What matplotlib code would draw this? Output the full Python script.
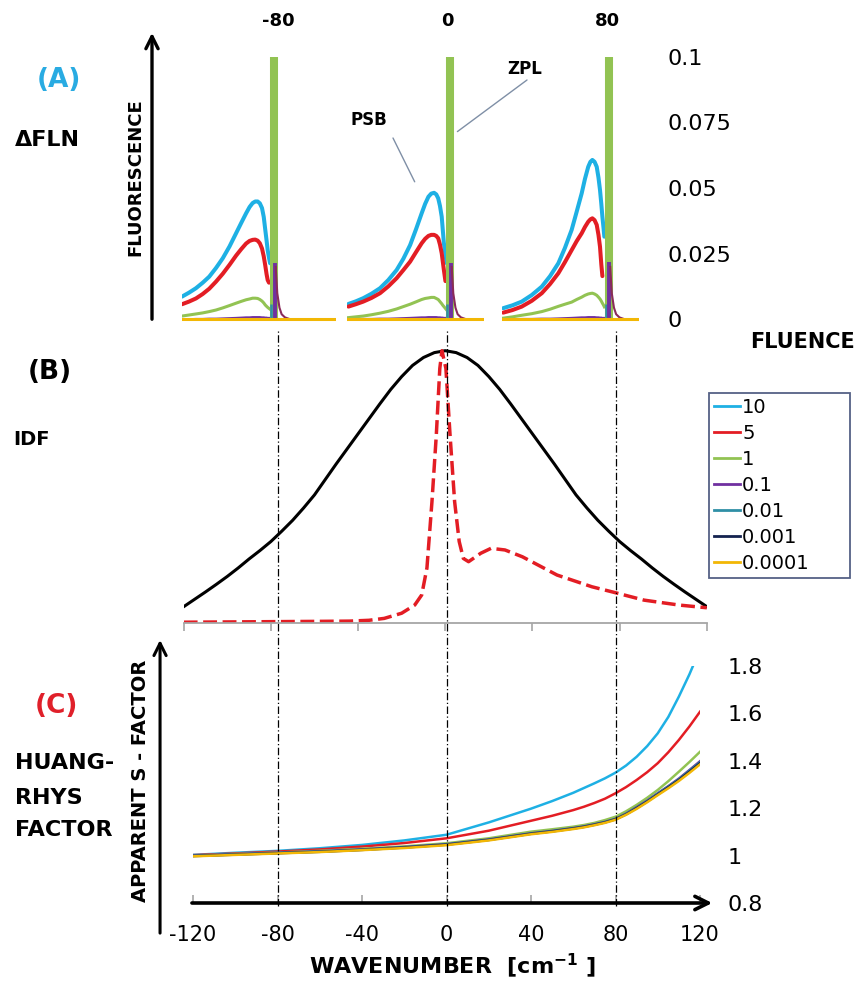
import numpy as np
import matplotlib
matplotlib.use("Agg")
import matplotlib.pyplot as plt
from matplotlib.lines import Line2D
from matplotlib.patches import ConnectionPatch, FancyArrowPatch
from matplotlib import transforms

plt.rcParams.update({'font.family': 'DejaVu Sans'})

W, H = 856, 981          # figure size in pixels (dpi 100)


def px(x, y):
    """pixel position (from top-left) -> figure fraction"""
    return x / W, 1 - y / H


# series colours / legend
colors = ['#1eb0e4', '#e31d24', '#92c353', '#7030a0', '#2f8fa6', '#14224f', '#f2b705']
fluence = ['10', '5', '1', '0.1', '0.01', '0.001', '0.0001']

# ---------------- (A) delta-FLN spectra, x = cm-1 relative to the ZPL ----------------
left_x = [-42.2, -39, -35.8, -32.7, -29.7, -26.6, -23.5, -20.4, -17.4, -15, -12.8, -11.2,
          -9.8, -8.6, -7.5, -6.5, -5.5, -4.7, -4.0, -3.4, -2.9, -2.3, -1.8]
left_blue = [.0087, .0102, .0119, .0140, .0163, .0196, .0233, .0278, .0328, .0368, .0404, .0428,
             .0443, .0449, .0449, .0442, .0424, .0390, .0341, .0300, .0264, .0235, .0214]
left_red = [.0058, .0068, .0080, .0097, .0117, .0144, .0174, .0208, .0243, .0268, .0289, .0299,
            .0303, .0304, .0300, .0290, .0270, .0240, .0205, .0172, .0150, .0140, np.nan]
left_green = [.0013, .0017, .0021, .0025, .0030, .0036, .0044, .0053, .0062, .0069, .0075, .0078,
              .0081, .0081, .0080, .0076, .0070, .0063, .0055, .0050, .0046, .0042, .0039]

mid_x = [-46.6, -43.2, -39.8, -36, -32.1, -28.3, -24.5, -21.4, -18.3, -15.6, -13, -11.4,
         -9.9, -8.6, -7.3, -6.3, -5.4, -4.6, -3.8, -3.3, -2.8, -2.1, -1.5]
mid_blue = [.0059, .0069, .0081, .0098, .0119, .0150, .0188, .0231, .0283, .0343, .0404, .0440,
            .0467, .0479, .0482, .0476, .0461, .0432, .0391, .0340, .0290, .0248, .0214]
mid_red = [.0049, .0058, .0068, .0082, .0100, .0126, .0157, .0188, .0220, .0256, .0290, .0307,
           .0318, .0322, .0322, .0318, .0309, .0285, .0252, .0220, .0188, .0146, np.nan]
mid_green = [.0007, .0010, .0013, .0018, .0024, .0031, .0040, .0049, .0058, .0067, .0076, .0080,
             .0082, .0084, .0084, .0080, .0076, .0068, .0060, .0054, .0049, .0042, .0036]

right_x = [-48.3, -44, -39.8, -35.2, -30.6, -26.8, -23, -20, -16.9, -14.6, -12.3, -10.8,
           -9.3, -8.3, -7.4, -6.4, -5.4, -4.6, -3.9, -3.3, -2.8, -2.3, -1.9]
right_blue = [.0043, .0054, .0068, .0093, .0125, .0165, .0214, .0272, .0341, .0410, .0480, .0535,
              .0581, .0600, .0607, .0600, .0581, .0540, .0493, .0440, .0391, .0350, .0315]
right_red = [.0026, .0036, .0049, .0071, .0100, .0135, .0176, .0218, .0264, .0298, .0328, .0352,
             .0372, .0381, .0385, .0378, .0360, .0322, .0277, .0210, .0165, np.nan, np.nan]
right_green = [.0005, .0010, .0016, .0022, .0030, .0039, .0050, .0058, .0066, .0076, .0085, .0092,
               .0097, .0099, .0100, .0097, .0092, .0085, .0078, .0070, .0062, .0055, .0048]

psb_purple = [.0001, .0001, .0002, .0002, .0003, .0003, .0004, .0005, .0006, .0007, .0008, .0008,
              .0009, .0009, .0009, .0009, .0008, .0008, .0007, .0007, .0006, .0006, .0006]
zpl_green = 0.11                      # runs off the top of the scale
zpl_purple = [0.0216, 0.0216, 0.0220]
zpl_tail_x = [0.8, 1.5, 2.5, 3.5, 5.0, 7.0]
zpl_tail_y = [0.0200, 0.0100, 0.0045, 0.0020, 0.0008, 0.0002]
a_ticks = [0, 0.025, 0.05, 0.075, 0.1]
a_ticklabels = ['0', '0.025', '0.05', '0.075', '0.1']
a_top_labels = ['-80', '0', '80']

# ---------------- (B) IDF and its hole ----------------
idf_x = list(range(-120, 125, 5))
idf_half = [0.061, 0.088, 0.115, 0.143, 0.172, 0.203, 0.236, 0.267, 0.300, 0.338, 0.378, 0.423,
            0.471, 0.528, 0.585, 0.640, 0.695, 0.750, 0.805, 0.858, 0.905, 0.946, 0.975, 0.993]
idf_y = idf_half + [1.0] + idf_half[::-1]
hole_x = [-120, -100, -80, -60, -44, -35, -28, -20, -14, -10.8, -8.4, -6.1, -4.1, -2.5, -1.5,
          0.3, 2.2, 4.3, 6.4, 8.3, 10.7, 16.3, 21, 27.4, 35.4, 51.3, 67.3, 77.2, 91.2, 107.2, 120]
hole_y = [0.004, 0.005, 0.006, 0.007, 0.008, 0.011, 0.018, 0.037, 0.067, 0.104, 0.203, 0.446, 0.691,
          0.935, 1.0, 0.935, 0.691, 0.446, 0.300, 0.238, 0.226, 0.257, 0.275, 0.269, 0.244, 0.177,
          0.134, 0.114, 0.085, 0.067, 0.057]

# ---------------- (C) apparent Huang-Rhys factor ----------------
c_x = [-120, -100, -80, -60, -40, -20, 0, 20, 40, 50, 60, 65, 70, 75, 80, 85, 90, 95, 100, 105, 110, 115, 120]
s_10 = [1.003, 1.012, 1.020, 1.031, 1.045, 1.064, 1.088, 1.140, 1.198, 1.230, 1.265, 1.285, 1.305,
        1.326, 1.350, 1.380, 1.417, 1.462, 1.516, 1.585, 1.671, 1.765, 1.870]
s_5 = [1.002, 1.009, 1.017, 1.026, 1.038, 1.053, 1.073, 1.105, 1.147, 1.168, 1.192, 1.206, 1.222,
       1.240, 1.263, 1.289, 1.319, 1.352, 1.390, 1.436, 1.488, 1.545, 1.607]
s_1 = [1.000, 1.007, 1.013, 1.020, 1.029, 1.039, 1.052, 1.073, 1.101, 1.111, 1.122, 1.129, 1.138,
       1.150, 1.164, 1.187, 1.214, 1.244, 1.277, 1.314, 1.354, 1.395, 1.438]
s_01 = [1.000, 1.006, 1.012, 1.018, 1.026, 1.036, 1.048, 1.068, 1.094, 1.104, 1.116, 1.123, 1.132,
        1.142, 1.155, 1.177, 1.204, 1.232, 1.263, 1.293, 1.325, 1.361, 1.398]
s_001 = [0.999, 1.005, 1.011, 1.017, 1.025, 1.035, 1.047, 1.067, 1.093, 1.103, 1.115, 1.122, 1.131,
         1.141, 1.154, 1.176, 1.202, 1.230, 1.261, 1.291, 1.322, 1.358, 1.394]
s_0001 = [0.998, 1.004, 1.010, 1.016, 1.024, 1.034, 1.046, 1.066, 1.092, 1.102, 1.114, 1.121, 1.130,
          1.140, 1.153, 1.174, 1.200, 1.228, 1.258, 1.288, 1.319, 1.354, 1.390]
s_00001 = [0.997, 1.003, 1.009, 1.015, 1.023, 1.032, 1.044, 1.064, 1.090, 1.100, 1.112, 1.119, 1.128,
           1.138, 1.151, 1.172, 1.197, 1.225, 1.255, 1.284, 1.315, 1.349, 1.385]
c_yticks = [0.8, 1.0, 1.2, 1.4, 1.6, 1.8]
c_yticklabels = ['0.8', '1', '1.2', '1.4', '1.6', '1.8']
c_xticks = [-120, -80, -40, 0, 40, 80, 120]
guide_x = [-80, 0, 80]

fig = plt.figure(figsize=(W / 100, H / 100), dpi=100)

# ---------------- panel A ----------------
a_top, a_bot = 56.7, 322.1
mini = [(182, 336, 274, left_x, left_blue, left_red, left_green),
        (347, 484, 450, mid_x, mid_blue, mid_red, mid_green),
        (502, 639, 608.5, right_x, right_blue, right_red, right_green)]
a_axes = []
for i, (x0, x1, zpl_px, xs, bl, rd, gr) in enumerate(mini):
    ax = fig.add_axes([x0 / W, 1 - a_bot / H, (x1 - x0) / W, (a_bot - a_top) / H])
    # x scale: 2.18 px per cm-1, ZPL sits at 0
    ax.set_xlim((x0 - zpl_px) / 2.18, (x1 - zpl_px) / 2.18)
    ax.set_ylim(-0.001, 0.1)
    ax.plot(xs, bl, color=colors[0], lw=2.9, solid_capstyle='round', solid_joinstyle='round')
    ax.plot(xs, rd, color=colors[1], lw=2.9, solid_capstyle='round', solid_joinstyle='round')
    ax.plot(xs, gr, color=colors[2], lw=2.2, solid_joinstyle='round')
    ax.plot(xs, psb_purple, color=colors[3], lw=1.5)
    ax.vlines(0, 0, zpl_green, color=colors[2], lw=5.8)
    ax.vlines(-1.3, 0, 0.006, color=colors[4], lw=1.8)
    ax.vlines(0.4, 0, zpl_purple[i], color=colors[3], lw=2.8)
    ax.plot(zpl_tail_x, zpl_tail_y, color='#8a2a5a', lw=1.5)
    ax.axhline(0, color=colors[6], lw=2.2)
    for s in ax.spines.values():
        s.set_visible(False)
    ax.set_xticks([])
    ax.set_yticks([])
    a_axes.append(ax)

axr = a_axes[2]
axr.yaxis.tick_right()
axr.set_yticks(a_ticks)
axr.set_yticklabels(a_ticklabels)
axr.tick_params(axis='y', length=0, pad=20.5, labelsize=16)
for lab in axr.get_yticklabels():
    lab.set_horizontalalignment('left')

# ZPL / PSB callouts on the middle spectrum
axm = a_axes[1]
fig.text(*px(525, 69), 'ZPL', ha='center', va='center', fontsize=12, fontweight='bold')
fig.text(*px(369, 120), 'PSB', ha='center', va='center', fontsize=12, fontweight='bold')
for start, end in [((527, 80), (3.4, 0.0715)), ((393, 138), (-16.2, 0.0524))]:
    fig.add_artist(ConnectionPatch(xyA=px(*start), coordsA='figure fraction', xyB=end,
                                   coordsB='data', axesB=axm, color='#7f8fa6', lw=1.0))

for lab, xp in zip(a_top_labels, [278, 447.5, 607.5]):
    fig.text(*px(xp, 21), lab, ha='center', va='center', fontsize=13, fontweight='bold')

fig.add_artist(FancyArrowPatch(px(152, 322), px(152, 30), transform=fig.transFigure,
                               arrowstyle='->', mutation_scale=22, lw=2.4, color='k'))
fig.text(*px(135, 177), 'FLUORESCENCE', rotation=90, ha='center', va='center',
         fontsize=13, fontweight='bold')

# ---------------- panel B ----------------
b_bot, b_top = 623.3, 350.7 - 0.05 * 272.6
axb = fig.add_axes([183.7 / W, 1 - b_bot / H, (706.8 - 183.7) / W, (b_bot - b_top) / H])
axb.plot(idf_x, idf_y, color='k', lw=2.2)
axb.plot(hole_x, hole_y, color='#e31d24', lw=2.5, linestyle=(0, (4, 1.6)))
axb.set_xlim(-120, 120)
axb.set_ylim(0, 1.05)
for s in ['top', 'left', 'right']:
    axb.spines[s].set_visible(False)
axb.spines['bottom'].set_color('#a6a6a6')
axb.spines['bottom'].set_linewidth(1.3)
axb.set_xticks(c_xticks)
axb.set_xticklabels([])
axb.set_yticks([])
axb.tick_params(axis='x', direction='out', length=6, color='#a6a6a6', width=1.2)

# ---------------- panel C ----------------
c_bot, c_top = 903, 666
axc = fig.add_axes([193 / W, 1 - c_bot / H, (700 - 193) / W, (c_bot - c_top) / H])
c_series = [s_10, s_5, s_1, s_01, s_001, s_0001, s_00001]
handles = []
for ys, col in zip(c_series, colors):
    ln, = axc.plot(c_x, ys, color=col, lw=1.8)
    handles.append(ln)
axc.set_xlim(-120, 120)
axc.set_ylim(0.8, 1.8)
for s in axc.spines.values():
    s.set_visible(False)
axc.set_xticks(c_xticks)
axc.set_xticklabels([str(v) for v in c_xticks])
axc.tick_params(axis='x', direction='in', length=6, color='#a6a6a6', width=1.2, pad=16, labelsize=15)
axc.yaxis.tick_right()
axc.set_yticks(c_yticks)
axc.set_yticklabels(c_yticklabels)
axc.tick_params(axis='y', length=0, pad=19.5, labelsize=16)
for lab in axc.get_yticklabels():
    lab.set_horizontalalignment('left')

axc.annotate('', xy=(125.8, 0.8), xytext=(-120.5, 0.8), annotation_clip=False,
             arrowprops=dict(arrowstyle='->', lw=2.6, color='k', mutation_scale=24, shrinkA=0, shrinkB=0))
axc.annotate('', xy=(-135.6, 1.91), xytext=(-135.6, 0.673), annotation_clip=False,
             arrowprops=dict(arrowstyle='->', lw=2.2, color='k', mutation_scale=22, shrinkA=0, shrinkB=0))
fig.text(*px(140, 781), 'APPARENT S - FACTOR', rotation=90, ha='center', va='center',
         fontsize=14, fontweight='bold')
fig.text(*px(453, 966), 'WAVENUMBER  [cm$^{\\mathbf{-1}}$ ]', ha='center', va='center',
         fontsize=16, fontweight='bold')

# vertical guides through all panels, at panel C wavenumbers
trans = transforms.blended_transform_factory(axc.transData, fig.transFigure)
for gx in guide_x:
    fig.add_artist(Line2D([gx, gx], [1 - 906 / H, 1 - 330 / H], transform=trans,
                          color='k', lw=0.9, linestyle=(0, (6, 2, 1, 2))))

# legend
leg = fig.legend(handles, fluence, loc='upper left', mode='expand',
                 bbox_to_anchor=(709 / W, 1 - 578 / H, 141 / W, 185 / H),
                 fontsize=14, frameon=True, fancybox=False, edgecolor='#2b3a67',
                 handlelength=1.35, handletextpad=0.1, labelspacing=0.36, borderpad=0.25,
                 borderaxespad=0)
leg.get_frame().set_linewidth(1.3)
for ln in leg.get_lines():
    ln.set_linewidth(2)
fig.text(*px(803, 342), 'FLUENCE', ha='center', va='center', fontsize=15, fontweight='bold')

# panel tags
fig.text(*px(59, 80), '(A)', color='#29abe2', ha='center', va='center', fontsize=19, fontweight='bold')
fig.text(*px(15, 140), 'ΔFLN', ha='left', va='center', fontsize=16, fontweight='bold')
fig.text(*px(50, 372), '(B)', ha='center', va='center', fontsize=19, fontweight='bold')
fig.text(*px(13, 440), 'IDF', ha='left', va='center', fontsize=14, fontweight='bold')
fig.text(*px(56, 706), '(C)', color='#e0202a', ha='center', va='center', fontsize=19, fontweight='bold')
for t, yp in zip(['HUANG-', 'RHYS', 'FACTOR'], [763, 798, 830]):
    fig.text(*px(15, yp), t, ha='left', va='center', fontsize=16, fontweight='bold')

fig.savefig('out.png', dpi=100)
